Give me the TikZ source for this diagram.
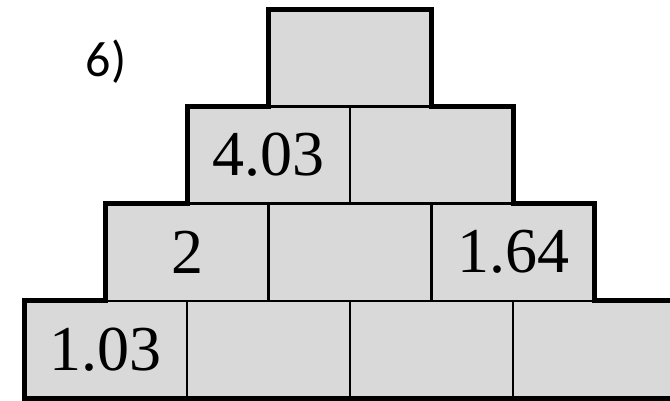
\documentclass[tikz,border=0pt]{standalone}
\usepackage{fontspec}
\setmainfont{Liberation Serif}
\newfontfamily\labelfont{Carlito}
\usepackage{tikz}
\usetikzlibrary{positioning}

\begin{document}
\begin{tikzpicture}[
    node distance=0pt,
    cell/.style={rectangle, draw, line width=2.5pt, fill=black!15, minimum width=163pt, minimum height=97.25pt, inner sep=0pt, outer sep=0pt, font=\fontsize{64}{70}\selectfont},
    outline/.style={line width=5pt, line join=miter}
]
    \useasboundingbox (0,0) rectangle (670pt,401pt);
    \clip (0,0) rectangle (670pt,401pt);

    \node[cell] (r1c1) at (105.5pt,51.6pt) {1.03};
    \node[cell, right=of r1c1] (r1c2) {};
    \node[cell, right=of r1c2] (r1c3) {};
    \node[cell, right=of r1c3] (r1c4) {};

    \node[cell, above=of r1c1.north east] (r2c1) {2};
    \node[cell, right=of r2c1] (r2c2) {};
    \node[cell, right=of r2c2] (r2c3) {1.64};

    \node[cell, above=of r2c1.north east] (r3c1) {4.03};
    \node[cell, right=of r3c1] (r3c2) {};

    \node[cell, above=of r3c1.north east] (top) {};

    \node[font=\labelfont\fontsize{50}{56}\selectfont] (label) at (106pt,339pt) {6)};

    \draw[outline] (r1c1.south west) -- (r1c1.north west) -- (r2c1.south west)
        -- (r2c1.north west) -- (r3c1.south west) -- (r3c1.north west)
        -- (top.south west) -- (top.north west) -- (top.north east)
        -- (top.south east) -- (r3c2.north east) -- (r3c2.south east)
        -- (r2c3.north east) -- (r2c3.south east) -- (r1c4.north east)
        -- (r1c4.south east) -- cycle;
\end{tikzpicture}
\end{document}
